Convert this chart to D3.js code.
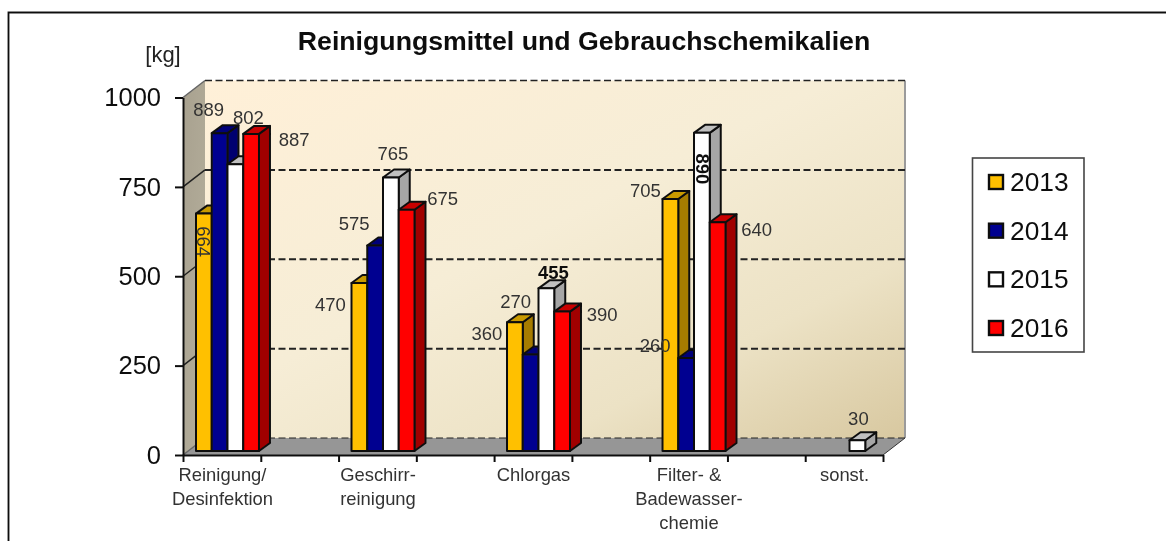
<!DOCTYPE html>
<html><head><meta charset="utf-8">
<script src="https://cdn.jsdelivr.net/npm/d3@7"></script>
<style>
html,body{margin:0;padding:0;background:#fff;overflow:hidden}
svg{display:block}
text{font-family:"Liberation Sans",Arial,sans-serif}
</style></head><body>
<svg id="c" width="1166" height="541"></svg>
<script>
const categories = [["Reinigung/","Desinfektion"],["Geschirr-","reinigung"],["Chlorgas"],["Filter- &","Badewasser-","chemie"],["sonst."]];
const categoryKeys = ["Reinigung","Geschirr","Chlorgas","Filter","sonst"];
const years = ["2013","2014","2015","2016"];
const values2013 = [664,470,360,705,null];
const values2014 = [889,575,270,260,null];
const values2015 = [802,765,455,890,30];
const values2016 = [887,675,390,640,null];
const yTicks = [0,250,500,750,1000];
const title = "Reinigungsmittel und Gebrauchschemikalien";
const unit = "[kg]";

const seriesValues = [values2013,values2014,values2015,values2016];
const faceColors = ["#ffc000","#000090","#ffffff","#ff0000"];
const topColors  = ["#c99a00","#000078","#c0c0c0","#c80000"];
const sideColors = ["#a67c00","#000070","#a6a6a6","#a00000"];
// label offset from the bar's top centre: [dx, dy, rotated, bold]
const labelLayout = [
 [[0,28,1,0],[-29,28,0,0],[-28,18,0,0],[-25,-2,0,0],null],
 [[-11,-17,0,0],[-21,-15,0,0],[-15,-46,0,0],[-31,-6,0,0],null],
 [[13,-40,0,0],[2,-18,0,0],[7,-9,0,1],[1,36,1,1],[1,-15,0,0]],
 [[43,12,0,0],[36,-5,0,0],[40,9,0,0],[39,14,0,0],null]
];

const depthX = 22, depthY = 17, barDepthX = 11, barDepthY = 8;
const plotLeft = 183, plotRight = 883, plotBottom = 455, plotTop = 97.5;

const svg = d3.select("#c");
const defs = svg.append("defs");
const wall = defs.append("linearGradient").attr("id","wall").attr("x1",0).attr("y1",0).attr("x2",1).attr("y2",1);
[[0,"#fff0d8"],[0.45,"#f6edd6"],[0.75,"#ece2c5"],[1,"#d8c8a0"]].forEach(s=>wall.append("stop").attr("offset",s[0]).attr("stop-color",s[1]));
const side = defs.append("linearGradient").attr("id","side").attr("x1",0).attr("y1",0).attr("x2",1).attr("y2",1);
[[0,"#a8a18f"],[1,"#b5af9c"]].forEach(s=>side.append("stop").attr("offset",s[0]).attr("stop-color",s[1]));
defs.append("filter").attr("id","soft").append("feGaussianBlur").attr("stdDeviation",0.4);

const root = svg.append("g").attr("filter","url(#soft)");
const y = d3.scaleLinear().domain([0,1000]).range([plotBottom,plotTop]);
const xTicks = d3.scaleLinear().domain([0,9]).range([plotLeft,plotRight]);
const xGroup = d3.scaleBand().domain(categoryKeys).range([196,881]).paddingInner(0.595).paddingOuter(0);
const xSeries = d3.scaleBand().domain(years).range([0,xGroup.bandwidth()]);
const yBar = v => y(v) - 4;
const poly = pts => pts.map(p=>p.join(",")).join(" ");

// frame
root.append("path").attr("d","M8.5,541V12.5H1166").attr("fill","none").attr("stroke","#111").attr("stroke-width",1.8);

// walls and floor
root.append("rect").attr("x",plotLeft+depthX).attr("y",y(1000)-depthY).attr("width",plotRight-plotLeft).attr("height",y(0)-y(1000)).attr("fill","url(#wall)");
root.append("polygon").attr("points",poly([[plotLeft,y(1000)],[plotLeft+depthX,y(1000)-depthY],[plotLeft+depthX,y(0)-depthY],[plotLeft,y(0)]])).attr("fill","url(#side)");
root.append("polygon").attr("points",poly([[plotLeft,y(0)],[plotLeft+depthX,y(0)-depthY],[plotRight+depthX,y(0)-depthY],[plotRight,y(0)]])).attr("fill","#969696");
root.append("path").attr("d",`M${plotRight+depthX},${y(1000)-depthY}V${y(0)-depthY}`).attr("stroke","#9b9b9b").attr("stroke-width",2).attr("fill","none");

// grid: dashed along the back wall, solid across the side wall
yTicks.forEach(t=>{
  root.append("path")
    .attr("d",`M${plotLeft+depthX},${y(t)-depthY}H${plotRight+depthX}`)
    .attr("fill","none").attr("stroke","#222").attr("stroke-width",t===0?1:t===1000?1.6:2).attr("stroke-dasharray","7,3.5");
  root.append("path")
    .attr("d",`M${plotLeft},${y(t)}L${plotLeft+depthX},${y(t)-depthY}`)
    .attr("fill","none").attr("stroke",t===750||t===500||t===250?"#222":"#666").attr("stroke-width",1.5);
});
root.append("path").attr("d",`M${plotRight},${y(0)}L${plotRight+depthX},${y(0)-depthY}`).attr("stroke","#333").attr("fill","none");

// axes
const axisY = root.append("g").attr("transform",`translate(${plotLeft},0)`)
  .call(d3.axisLeft(y).tickValues(yTicks).tickSize(8).tickPadding(14).tickSizeOuter(0).tickFormat(d3.format("d")));
axisY.selectAll("text").attr("font-size",25.5).attr("fill","#111").style("font-family",'"Liberation Sans"');
axisY.selectAll("line,path").attr("stroke","#111").attr("stroke-width",2);
const axisX = root.append("g").attr("transform",`translate(0,${plotBottom})`)
  .call(d3.axisBottom(xTicks).ticks(9).tickSize(7).tickSizeOuter(0).tickFormat(""));
axisX.selectAll("line,path").attr("stroke","#111").attr("stroke-width",2);

// bars
years.forEach((yr,s)=>{
  const g = root.append("g");
  categoryKeys.forEach((c,i)=>{
    const v = seriesValues[s][i];
    if(v==null) return;
    const x0 = xGroup(c)+xSeries(yr), w = xSeries.bandwidth(), t = yBar(v), b = yBar(0);
    const st = {stroke:"#111","stroke-width":2,"stroke-linejoin":"round"};
    const add = (pts,fill)=>{const p=g.append("polygon").attr("points",poly(pts)).attr("fill",fill);Object.entries(st).forEach(([k,a])=>p.attr(k,a));};
    add([[x0+w,t],[x0+w+barDepthX,t-barDepthY],[x0+w+barDepthX,b-barDepthY],[x0+w,b]],sideColors[s]);
    add([[x0,t],[x0+barDepthX,t-barDepthY],[x0+w+barDepthX,t-barDepthY],[x0+w,t]],topColors[s]);
    add([[x0,t],[x0+w,t],[x0+w,b],[x0,b]],faceColors[s]);
  });
});

// data labels
years.forEach((yr,s)=>{
  categoryKeys.forEach((c,i)=>{
    const v = seriesValues[s][i];
    if(v==null) return;
    const [dx,dy,rot,bold] = labelLayout[s][i];
    const cx = xGroup(c)+xSeries(yr)+xSeries.bandwidth()/2+dx, cy = yBar(v)+dy;
    root.append("text").text(v).attr("font-size",18.5).attr("fill",bold?"#111":"#333")
      .attr("font-weight",bold?"bold":"normal").attr("text-anchor","middle")
      .attr("dominant-baseline",rot?"central":"auto")
      .attr("transform",`translate(${cx},${cy})${rot?" rotate(90)":""}`);
  });
});

// category labels
categoryKeys.forEach((c,i)=>{
  const cx = xGroup(c)+xGroup.bandwidth()/2-5;
  categories[i].forEach((line,j)=>{
    root.append("text").text(line).attr("x",cx).attr("y",480.5+j*24.3).attr("text-anchor","middle").attr("font-size",18.4).attr("fill","#333");
  });
});

// title, unit
root.append("text").text(title).attr("x",584).attr("y",50).attr("text-anchor","middle").attr("font-size",26.7).attr("font-weight","bold").attr("fill","#111");
root.append("text").text(unit).attr("x",163).attr("y",62).attr("text-anchor","middle").attr("font-size",22).attr("fill","#222");

// legend
root.append("rect").attr("x",972.5).attr("y",158).attr("width",111.5).attr("height",194).attr("fill","#fff").attr("stroke","#444").attr("stroke-width",1.6);
const legY = d3.scalePoint().domain(years).range([182,328]);
years.forEach((yr,s)=>{
  root.append("rect").attr("x",989).attr("y",legY(yr)-7).attr("width",14).attr("height",14).attr("fill",faceColors[s]).attr("stroke","#111").attr("stroke-width",2.4);
  root.append("text").text(yr).attr("x",1010).attr("y",legY(yr)+9).attr("font-size",26.3).attr("fill","#111");
});
</script>
</body></html>
